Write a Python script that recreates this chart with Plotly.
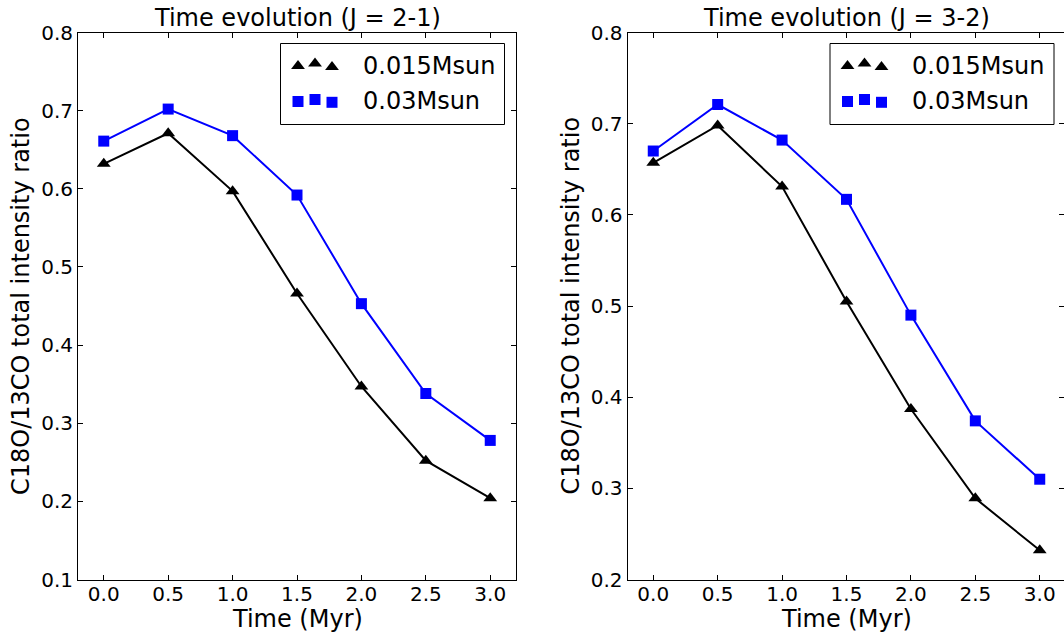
import plotly.graph_objects as go

# ---------------- data ----------------
time_myr = [0.0, 0.5, 1.0, 1.5, 2.0, 2.5, 3.0]

j21_m0015 = [0.632, 0.671, 0.597, 0.466, 0.347, 0.252, 0.204]
j21_m003 = [0.661, 0.702, 0.668, 0.592, 0.453, 0.338, 0.278]

j32_m0015 = [0.657, 0.698, 0.631, 0.505, 0.387, 0.289, 0.232]
j32_m003 = [0.670, 0.721, 0.682, 0.617, 0.490, 0.374, 0.310]

series_names = ["0.015Msun", "0.03Msun"]
panel_titles = ["Time evolution (J = 2-1)", "Time evolution (J = 3-2)"]
x_title = "Time (Myr)"
y_title = "C18O/13CO total intensity ratio"
x_ticks = [0.0, 0.5, 1.0, 1.5, 2.0, 2.5, 3.0]
y_ticks_left = [0.1, 0.2, 0.3, 0.4, 0.5, 0.6, 0.7, 0.8]
y_ticks_right = [0.2, 0.3, 0.4, 0.5, 0.6, 0.7, 0.8]

# ---------------- layout (pixels) ----------------
W, H = 1064, 634
FONT = "DejaVu Sans"
AX_TOP, AX_BOT = 32.5, 579.5
L_X0, L_X1 = 78.0, 516.0
R_X0 = 627.5
XMIN, XMAX = -0.2, 3.2
PX_PER_UNIT = (L_X1 - L_X0) / (XMAX - XMIN)
R_X1_FULL = R_X0 + (L_X1 - L_X0)          # true right spine (off-screen)
R_X1 = float(W)                            # visible edge
R_XMAX = XMIN + (R_X1 - R_X0) / PX_PER_UNIT

def px(x):
    return x / W

def py(y):
    return 1 - y / H

BLACK = "#000000"
BLUE = "#0000ff"
TRI, SQ = 12, 11

fig = go.Figure()

def add_series(xa, ya, ys, color, symbol, size):
    fig.add_trace(go.Scatter(
        x=time_myr, y=ys, xaxis=xa, yaxis=ya, mode="lines+markers",
        line=dict(color=color, width=2),
        marker=dict(color=color, symbol=symbol, size=size, line=dict(width=0)),
        showlegend=False, cliponaxis=False,
    ))

add_series("x", "y", j21_m0015, BLACK, "triangle-up", TRI)
add_series("x", "y", j21_m003, BLUE, "square", SQ)
add_series("x2", "y2", j32_m0015, BLACK, "triangle-up", TRI)
add_series("x2", "y2", j32_m003, BLUE, "square", SQ)
# empty trace to materialise the right-hand tick axis of panel 2
fig.add_trace(go.Scatter(x=[], y=[], xaxis="x2", yaxis="y3", showlegend=False))

axis_common = dict(
    showline=True, linecolor="black", linewidth=1,
    ticks="inside", ticklen=5, tickwidth=1, tickcolor="black",
    showgrid=False, zeroline=False, automargin=False,
    tickfont=dict(family=FONT, size=20, color="black"),
)

ydom = [py(AX_BOT), py(AX_TOP)]

fig.update_layout(
    width=W, height=H,
    margin=dict(l=0, r=0, t=0, b=0, pad=0, autoexpand=False),
    paper_bgcolor="white", plot_bgcolor="rgba(0,0,0,0)",
    showlegend=False,
    xaxis=dict(domain=[px(L_X0), px(L_X1)], range=[XMIN, XMAX], anchor="y",
               tickvals=x_ticks, ticktext=[f"{v:.1f}" for v in x_ticks],
               mirror="ticks", ticklabelstandoff=-4, **axis_common),
    yaxis=dict(domain=ydom, range=[0.1, 0.8], anchor="x",
               tickvals=y_ticks_left, ticktext=[f"{v:.1f}" for v in y_ticks_left],
               mirror="ticks", **axis_common),
    xaxis2=dict(domain=[px(R_X0), px(R_X1)], range=[XMIN, R_XMAX], anchor="y2",
                tickvals=x_ticks, ticktext=[f"{v:.1f}" for v in x_ticks],
                mirror="ticks", ticklabelstandoff=-4, **axis_common),
    yaxis2=dict(domain=ydom, range=[0.2, 0.8], anchor="x2",
                tickvals=y_ticks_right, ticktext=[f"{v:.1f}" for v in y_ticks_right],
                mirror=False, **axis_common),
    yaxis3=dict(range=[0.2, 0.8], overlaying="y2", side="right", anchor="free",
                position=1.0, showline=False, showgrid=False, zeroline=False,
                automargin=False,
                ticks="inside", ticklen=5, tickwidth=1, tickcolor="black",
                tickvals=y_ticks_right, showticklabels=False),
    # pixel-space overlay used for the legend keys
    xaxis4=dict(domain=[0, 1], range=[0, W], anchor="y4", visible=False,
                automargin=False),
    yaxis4=dict(domain=[0, 1], range=[H, 0], anchor="x4", visible=False,
                automargin=False),
)

annotations = []
shapes = []
panels = [(L_X0, L_X1), (R_X0, R_X1_FULL)]
for (x0, x1), title in zip(panels, panel_titles):
    cx = (x0 + x1) / 2
    annotations.append(dict(text=title, x=px(cx), y=py(18), xref="paper", yref="paper",
                            xanchor="center", yanchor="middle", showarrow=False,
                            font=dict(family=FONT, size=24, color="black")))
    annotations.append(dict(text=x_title, x=px(cx), y=py(618.5), xref="paper", yref="paper",
                            xanchor="center", yanchor="middle", showarrow=False,
                            font=dict(family=FONT, size=24, color="black")))
    annotations.append(dict(text=y_title, x=px(x0 - 57), y=py((AX_TOP + AX_BOT) / 2),
                            xref="paper", yref="paper", textangle=-90,
                            xanchor="center", yanchor="middle", showarrow=False,
                            font=dict(family=FONT, size=24, color="black")))
    # legend box
    lx1 = x1 - 11.5
    lx0 = lx1 - 224
    ly0, ly1 = 43.5, 124.5
    shapes.append(dict(type="rect", xref="paper", yref="paper",
                       x0=px(lx0), x1=px(lx1), y0=py(ly1), y1=py(ly0),
                       line=dict(color="black", width=1), fillcolor="white",
                       layer="below"))
    rows = [(65.5, BLACK, "triangle-up", TRI, series_names[0], [0.5, -2.0, 1.5]),
            (101.0, BLUE, "square", SQ, series_names[1], [0.5, -1.5, 1.3])]
    offsets_x = [17.5, 34.5, 51.5]
    for ry, color, sym, size, name, offsets_y in rows:
        fig.add_trace(go.Scatter(
            x=[lx0 + ox for ox in offsets_x], y=[ry + oy for oy in offsets_y],
            xaxis="x4", yaxis="y4", mode="markers",
            marker=dict(color=color, symbol=sym, size=size, line=dict(width=0)),
            showlegend=False, hoverinfo="skip", cliponaxis=False))
        annotations.append(dict(text=name, x=px(lx0 + 80), y=py(ry), xref="paper",
                                yref="paper", xanchor="left", yanchor="middle",
                                showarrow=False,
                                font=dict(family=FONT, size=24, color="black")))

fig.update_layout(annotations=annotations, shapes=shapes)
fig.write_html("out.html")
